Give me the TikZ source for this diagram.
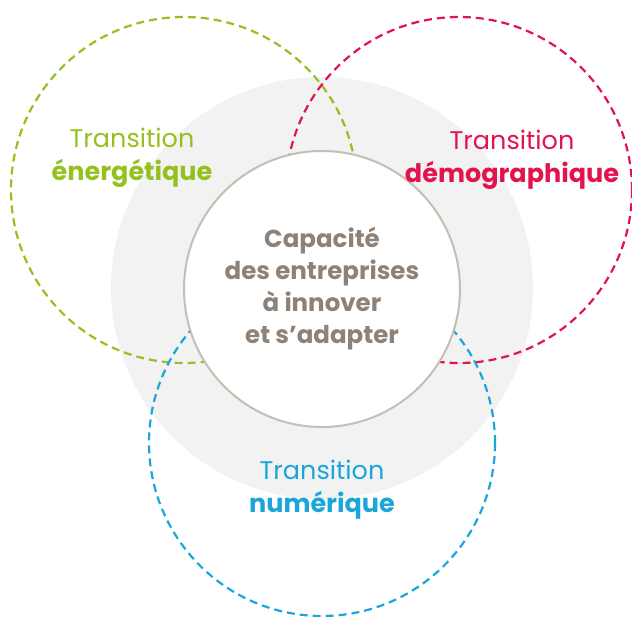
\documentclass[tikz,border=0pt]{standalone}
\usepackage{fontspec}
\setmainfont{Poppins}
\usetikzlibrary{positioning}
\definecolor{energiegreen}{RGB}{149,193,31}
\definecolor{demored}{RGB}{227,19,79}
\definecolor{numblue}{RGB}{27,166,217}
\definecolor{fondgrey}{RGB}{242,242,242}
\definecolor{bordtan}{RGB}{200,189,179}
\definecolor{textbrown}{RGB}{140,130,121}

\tikzset{
  transition/.style={dashed, dash pattern=on 8pt off 5pt, line width=2.2pt},
  label/.style={align=center, font=\fontsize{25.5}{33}\selectfont}
}

\begin{document}
\begin{tikzpicture}[x=1pt, y=-1pt]
\useasboundingbox (0,0) rectangle (632,616);
% grey background disc
\fill[fondgrey] (322,288) circle[radius=211pt];
% the three transitions
\foreach \cx/\cy/\col in {184/190/energiegreen, 459/190/demored, 322/443/numblue} {
    \draw[transition, \col] (\cx,\cy) circle[radius=173pt];
}
\node[circle, draw=bordtan, line width=2pt, fill=white, minimum size=276pt, align=center,
      text=textbrown, font=\bfseries\fontsize{24.5}{32}\selectfont] (capacite) at (322,289)
      {Capacité\\des entreprises\\à innover\\et s’adapter};
\node[label, text=energiegreen] (energie) at (132,158) {Transition\\\textbf{énergétique}};
\node[label, text=demored] (demo) at (512,160) {Transition\\\textbf{démographique}};
\node[label, text=numblue] (numerique) at (322,490) {Transition\\\textbf{numérique}};
\end{tikzpicture}
\end{document}
